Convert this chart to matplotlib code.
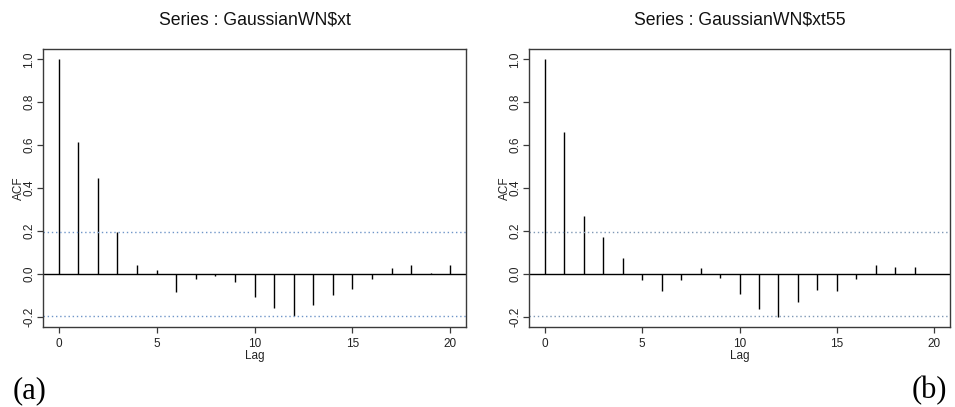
import matplotlib
matplotlib.use("Agg")
import matplotlib.pyplot as plt

# ACF values
lags_a = list(range(21))
acf_a = [1.0, 0.616, 0.446, 0.194, 0.042, 0.019, -0.084, -0.025, -0.012, -0.037,
         -0.106, -0.161, -0.199, -0.146, -0.099, -0.073, -0.023, 0.025, 0.039, 0.005, 0.039]
lags_b = list(range(20))
acf_b = [1.0, 0.659, 0.269, 0.170, 0.073, -0.030, -0.081, -0.028, 0.025, -0.020,
         -0.092, -0.165, -0.202, -0.132, -0.075, -0.081, -0.023, 0.042, 0.031, 0.033]
conf_band = 0.196
titles = ["Series : GaussianWN$xt", "Series : GaussianWN$xt55"]
panel_tags = ["(a)", "(b)"]

W, H = 955, 407
fig = plt.figure(figsize=(W / 100, H / 100), dpi=100)
plt.rcParams['font.family'] = ['Liberation Sans', 'DejaVu Sans']

boxes = [(43, 466), (529, 950)]
top, bottom = 49, 327
frame_col = '#3a3a3a'
for (x0, x1), lags, acf, title, bandcol in zip(
        boxes, [lags_a, lags_b], [acf_a, acf_b], titles, ['#6f95c8', '#7f98b5']):
    ax = fig.add_axes([x0 / W, 1 - bottom / H, (x1 - x0) / W, (bottom - top) / H])
    ax.vlines(lags, 0, acf, color='black', linewidth=1.0)
    ax.axhline(0, color='black', linewidth=1.0)
    ax.axhline(conf_band, color=bandcol, linewidth=1.0, linestyle=(0, (1, 2)))
    ax.axhline(-conf_band, color=bandcol, linewidth=1.0, linestyle=(0, (1, 2)))
    ax.set_xlim(-0.8, 20.8)
    ax.set_ylim(-0.248, 1.048)
    ax.set_xticks([0, 5, 10, 15, 20])
    ax.set_yticks([-0.2, 0.0, 0.2, 0.4, 0.6, 0.8, 1.0])
    ax.set_yticklabels(['-0.2', '0.0', '0.2', '0.4', '0.6', '0.8', '1.0'],
                       rotation=90, va='center')
    ax.tick_params(direction='out', length=4, width=0.9, colors=frame_col,
                   labelcolor='#222222', labelsize=8.5)
    ax.tick_params(axis='y', pad=1.5)
    ax.tick_params(axis='x', pad=4)
    for s in ax.spines.values():
        s.set_color(frame_col)
        s.set_linewidth(1.0)
    ax.set_xlabel('Lag', fontsize=8.5, labelpad=0, color='#222222')
    ax.set_ylabel('ACF', fontsize=8.5, labelpad=-1, color='#222222')
    fig.text((x0 + x1) / 2 / W, 1 - 20 / H, title, ha='center', va='center',
             fontsize=12.7, color='#111111')

fig.text(13 / W, 1 - 391 / H, panel_tags[0], ha='left', va='center',
         fontsize=22, family='Liberation Serif')
fig.text(947 / W, 1 - 391 / H, panel_tags[1], ha='right', va='center',
         fontsize=22, family='Liberation Serif')

fig.savefig('out.png', dpi=100)
